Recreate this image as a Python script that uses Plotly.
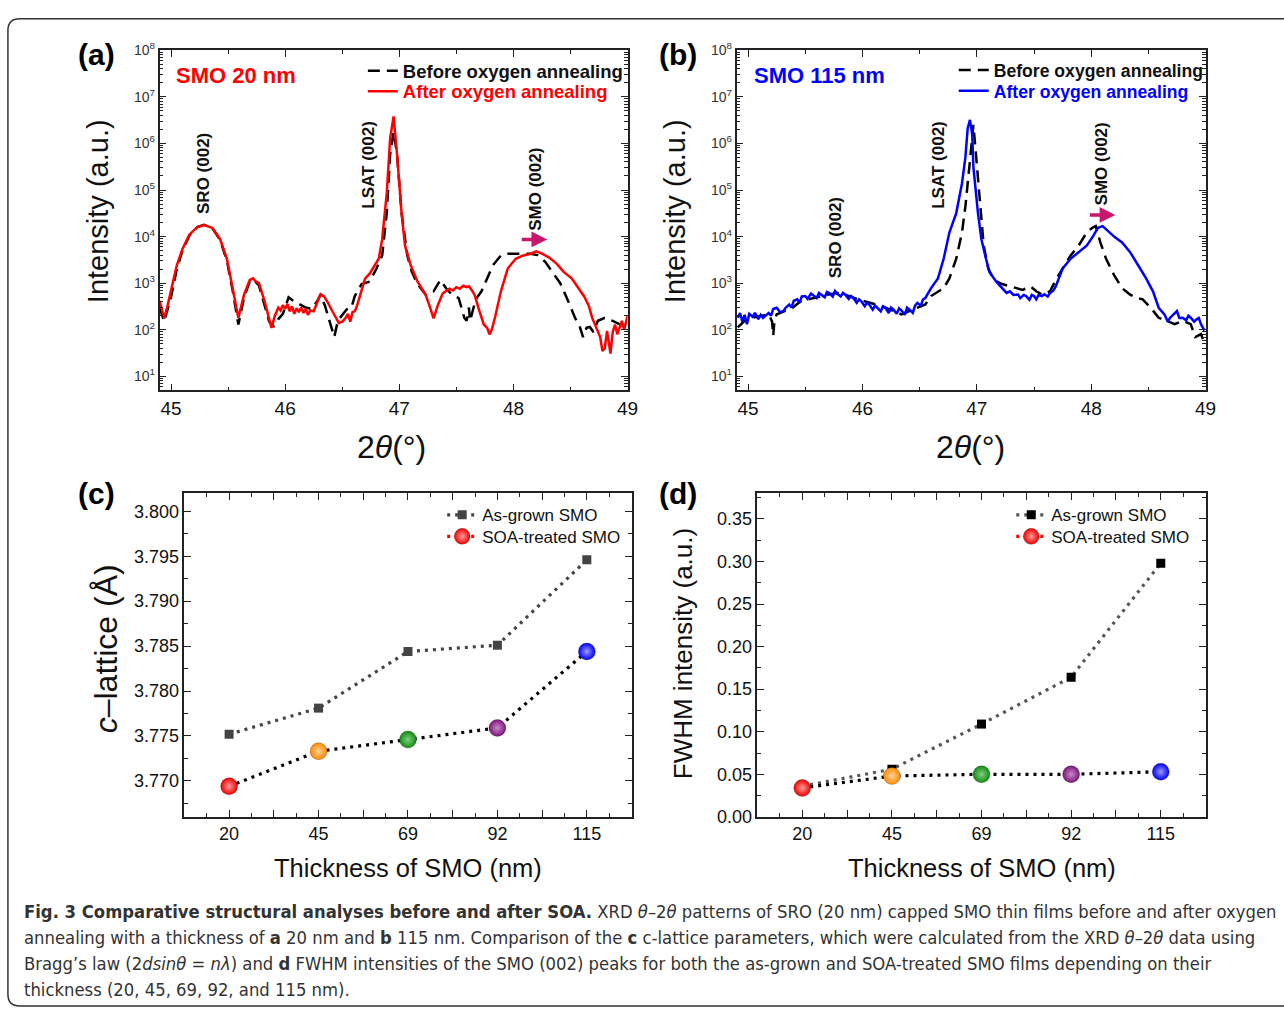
import plotly.graph_objects as go

W, H = 1284, 1020

# ---------------- data ----------------
# (a) SMO 20 nm
a_before_x = [44.90, 44.94, 45.00, 45.05, 45.10, 45.16, 45.23, 45.29, 45.36, 45.43, 45.49, 45.54, 45.59, 45.64, 45.69,
              45.72, 45.77, 45.82, 45.86, 45.90, 45.94, 45.98, 46.03, 46.07, 46.11, 46.15, 46.18, 46.23, 46.28, 46.31,
              46.35, 46.39, 46.43, 46.46, 46.48, 46.54, 46.58, 46.61, 46.67, 46.74, 46.80, 46.85, 46.89, 46.92, 46.95,
              46.98, 47.02, 47.07, 47.11, 47.16, 47.23, 47.30, 47.36, 47.41, 47.46, 47.52, 47.57, 47.59, 47.61, 47.62,
              47.64, 47.67, 47.72, 47.82, 47.89, 47.95, 48.05, 48.15, 48.21, 48.28, 48.34, 48.41, 48.48, 48.54, 48.58,
              48.61, 48.64, 48.67, 48.70, 48.74, 48.80, 48.87, 48.93, 49.00]
a_before_i = [300, 150, 500, 2000, 5000, 10500, 16000, 18000, 15500, 8500, 3000, 700, 130, 500, 1100,
              1200, 900, 350, 150, 120, 170, 220, 500, 420, 370, 320, 300, 280, 410, 570,
              320, 150, 70, 150, 180, 275, 300, 530, 960, 1080, 2060, 3940, 32000, 5.9e5, 1.8e6,
              5.9e5, 32000, 3940, 1750, 960, 570, 670, 1170, 780, 570, 480, 180, 156, 300, 156,
              250, 450, 670, 2430, 3940, 4270, 4300, 4270, 4000, 2850, 1750, 1000, 410, 180, 120,
              70, 110, 115, 90, 156, 180, 156, 132, 96]

a_after_x = [44.90, 44.92, 44.94, 44.97, 45.00, 45.05, 45.10, 45.16, 45.23, 45.29, 45.36, 45.43, 45.49, 45.54, 45.59,
             45.64, 45.69, 45.72, 45.74, 45.77, 45.82, 45.86, 45.88, 45.91, 45.94, 45.96, 45.98, 46.00, 46.02, 46.04,
             46.06, 46.08, 46.10, 46.12, 46.14, 46.16, 46.18, 46.20, 46.22, 46.25, 46.28, 46.31, 46.34, 46.37, 46.41,
             46.44, 46.47, 46.50, 46.53, 46.55, 46.57, 46.59, 46.61, 46.63, 46.66, 46.70, 46.74, 46.77, 46.82, 46.85,
             46.89, 46.92, 46.95, 46.98, 47.02, 47.05, 47.10, 47.16, 47.20, 47.23, 47.27, 47.30, 47.34, 47.38, 47.41,
             47.44, 47.47, 47.50, 47.53, 47.56, 47.59, 47.61, 47.64, 47.66, 47.70, 47.74, 47.77, 47.79, 47.81, 47.84,
             47.89, 47.95, 48.02, 48.08, 48.15, 48.20, 48.25, 48.31, 48.38, 48.44, 48.51, 48.57, 48.62, 48.66, 48.69,
             48.72, 48.74, 48.76, 48.78, 48.80, 48.82, 48.84, 48.85, 48.87, 48.89, 48.91, 48.93, 48.95, 48.97, 49.00]
a_after_i = [420, 260, 175, 330, 670, 2400, 5400, 11000, 16000, 17700, 15500, 8800, 3300, 780, 180,
             570, 1170, 1270, 1100, 1000, 410, 170, 110, 200, 300, 260, 340, 280, 360, 250,
             320, 220, 290, 240, 300, 230, 280, 210, 260, 250, 380, 580, 520, 400, 260,
             190, 140, 150, 180, 220, 150, 240, 250, 330, 620, 1250, 1600, 2060, 3350, 8800,
             85000, 1.3e6, 3.8e6, 5.9e5, 32000, 6400, 2430, 1080, 760, 570, 300, 175, 350, 600, 680,
             760, 700, 820, 760, 880, 820, 860, 680, 560, 260, 130, 110, 80, 100, 190,
             670, 2060, 3350, 3900, 4300, 4800, 4300, 3600, 2600, 1750, 1270, 780, 520, 330, 180,
             120, 95, 70, 35, 40, 95, 50, 31, 90, 130, 80, 110, 155, 100, 200]

# (b) SMO 115 nm
b_before_x = [44.91, 44.97, 45.04, 45.11, 45.18, 45.21, 45.22, 45.23, 45.25, 45.32, 45.39, 45.46, 45.57, 45.67, 45.78,
              45.85, 45.96, 46.06, 46.17, 46.27, 46.34, 46.41, 46.48, 46.55, 46.60, 46.66, 46.71, 46.76, 46.82, 46.87,
              46.90, 46.94, 46.97, 46.99, 47.03, 47.06, 47.10, 47.15, 47.22, 47.29, 47.40, 47.47, 47.52, 47.57, 47.64,
              47.69, 47.75, 47.82, 47.89, 47.96, 48.01, 48.04, 48.08, 48.13, 48.20, 48.27, 48.34, 48.40, 48.45, 48.52,
              48.59, 48.66, 48.73, 48.80, 48.87, 48.91, 48.96, 48.99]
b_before_i = [113, 156, 182, 199, 215, 150, 75, 150, 215, 253, 297, 410, 482, 550, 615,
              567, 450, 378, 320, 253, 215, 253, 297, 349, 530, 670, 783, 1270, 3350, 12200,
              44500, 4.3e5, 2.5e6, 6.9e5, 44500, 6390, 2060, 1170, 960, 850, 720, 850, 670, 570, 670,
              1170, 2060, 3940, 6390, 12200, 15500, 16800, 7500, 3350, 1490, 780, 570, 482, 450, 297,
              182, 156, 132, 156, 132, 70, 81, 51]

b_after_x = [44.91, 44.93, 44.95, 44.97, 44.99, 45.01, 45.04, 45.06, 45.09, 45.11, 45.13, 45.15, 45.18, 45.20, 45.22,
             45.25, 45.28, 45.31, 45.33, 45.36, 45.38, 45.40, 45.43, 45.45, 45.47, 45.50, 45.52, 45.55, 45.57, 45.60,
             45.62, 45.64, 45.67, 45.69, 45.71, 45.74, 45.76, 45.78, 45.81, 45.83, 45.85, 45.88, 45.90, 45.92, 45.95,
             45.97, 45.99, 46.02, 46.04, 46.06, 46.09, 46.11, 46.13, 46.16, 46.18, 46.20, 46.23, 46.25, 46.27, 46.30,
             46.32, 46.34, 46.37, 46.39, 46.41, 46.44, 46.46, 46.48, 46.51, 46.53, 46.55, 46.60, 46.66, 46.71, 46.76,
             46.82, 46.87, 46.90, 46.92, 46.94, 46.96, 46.97, 47.01, 47.04, 47.08, 47.11, 47.17, 47.22, 47.26, 47.29,
             47.32, 47.36, 47.38, 47.41, 47.43, 47.46, 47.48, 47.50, 47.52, 47.54, 47.57, 47.59, 47.62, 47.64, 47.67,
             47.69, 47.75, 47.82, 47.89, 47.96, 48.01, 48.06, 48.10, 48.15, 48.20, 48.27, 48.34, 48.41, 48.48, 48.54,
             48.59, 48.64, 48.67, 48.69, 48.72, 48.75, 48.77, 48.80, 48.83, 48.85, 48.87, 48.90, 48.92, 48.94, 48.96,
             48.99]
b_after_i = [182, 230, 150, 210, 132, 220, 190, 230, 170, 210, 180, 200, 230, 200, 280,
             297, 240, 253, 300, 349, 300, 420, 450, 380, 520, 530, 460, 600, 555, 480,
             620, 567, 500, 650, 615, 520, 680, 590, 520, 620, 567, 460, 530, 482, 380,
             450, 410, 320, 380, 349, 270, 330, 297, 250, 320, 297, 230, 300, 274, 220,
             290, 262, 210, 300, 274, 230, 330, 378, 330, 450, 482, 783, 1270, 3350, 12200,
             32000, 1.38e5, 5.0e5, 2.1e6, 3.2e6, 1.55e6, 3.1e5, 32000, 8800, 3350, 1750, 1080, 780, 620, 670,
             560, 570, 480, 560, 530, 440, 560, 530, 450, 560, 530, 580, 520, 615, 700,
             850, 2060, 3350, 4650, 6390, 9600, 15500, 16800, 13200, 10000, 7500, 4650, 2430, 1270, 670,
             297, 215, 150, 182, 220, 253, 180, 182, 160, 200, 182, 150, 167, 180, 132,
             96]

xrd_ticks = [45, 46, 47, 48, 49]
log_tickvals = [10, 100, 1e3, 1e4, 1e5, 1e6, 1e7, 1e8]
log_ticktext = ["10<sup>1</sup>", "10<sup>2</sup>", "10<sup>3</sup>", "10<sup>4</sup>",
                "10<sup>5</sup>", "10<sup>6</sup>", "10<sup>7</sup>", "10<sup>8</sup>"]

# (c), (d)
thickness = [20, 45, 69, 92, 115]
c_asgrown = [3.7752, 3.7781, 3.7844, 3.7851, 3.7946]
c_soa = [3.7694, 3.7733, 3.7746, 3.7759, 3.7844]
d_asgrown = [0.036, 0.056, 0.109, 0.164, 0.298]
d_soa = [0.034, 0.048, 0.050, 0.050, 0.053]
soa_colors = ["#f00000", "#ff8a00", "#138a13", "#7a167a", "#0000f5"]
soa_centers = ["#ff9a9a", "#ffd29a", "#7fd07f", "#c98ac9", "#9a9aff"]

# ---------------- helpers ----------------
def px(x):
    return x / W


def py(y):
    return 1 - y / H


FONT = "Arial, Liberation Sans, Helvetica, sans-serif"
CAPFONT = "Liberation Sans Narrow, DejaVu Sans Condensed, Arial Narrow, sans-serif"
LC = "#222222"

fig = go.Figure()

# (a)
fig.add_trace(go.Scatter(x=a_before_x, y=a_before_i, mode="lines", name="Before oxygen annealing",
                         line=dict(color="black", width=2.5, dash="12px,7px"), xaxis="x", yaxis="y", legend="legend"))
fig.add_trace(go.Scatter(x=a_after_x, y=a_after_i, mode="lines",
                         name="<span style='color:#ff0000'>After oxygen annealing</span>",
                         line=dict(color="#ff0000", width=2.5), xaxis="x", yaxis="y", legend="legend2"))
# (b)
fig.add_trace(go.Scatter(x=b_before_x, y=b_before_i, mode="lines", name="Before oxygen annealing",
                         line=dict(color="black", width=2.5, dash="12px,7px"), xaxis="x2", yaxis="y2", legend="legend3"))
fig.add_trace(go.Scatter(x=b_after_x, y=b_after_i, mode="lines",
                         name="<span style='color:#0000ff'>After oxygen annealing</span>",
                         line=dict(color="#0000ff", width=2.5), xaxis="x2", yaxis="y2", legend="legend4"))

idx = list(range(len(thickness)))


def sphere_marker(colors, centers, size=17):
    return dict(symbol="circle", size=size, color=colors,
                gradient=dict(type="radial", color=centers),
                line=dict(width=0.6, color="rgba(0,0,0,0.35)"))


for (xa, ya, leg1, leg2, ag, soa, sqc, lnc) in [
        ("x3", "y3", "legend5", "legend6", c_asgrown, c_soa, "#444444", "#444444"),
        ("x4", "y4", "legend7", "legend8", d_asgrown, d_soa, "#000000", "#555555")]:
    fig.add_trace(go.Scatter(x=idx, y=ag, mode="lines+markers", name="As-grown SMO",
                             line=dict(color=lnc, width=3.2, dash="3px,5px"),
                             marker=dict(symbol="square", size=9, color=sqc),
                             xaxis=xa, yaxis=ya, legend=leg1))
    # legend entry for treated series
    fig.add_trace(go.Scatter(x=[None], y=[None], mode="lines+markers", name="SOA-treated SMO",
                             line=dict(color="#ff0000", width=3.2, dash="3px,5px"),
                             marker=sphere_marker(soa_colors[0], soa_centers[0]),
                             xaxis=xa, yaxis=ya, legend=leg2))
    fig.add_trace(go.Scatter(x=idx, y=soa, mode="lines+markers", showlegend=False,
                             line=dict(color="#000000", width=3.2, dash="3px,5px"),
                             marker=sphere_marker(soa_colors, soa_centers),
                             xaxis=xa, yaxis=ya))

AX = dict(showline=True, linecolor=LC, linewidth=1.6, mirror="allticks", ticks="inside",
          tickcolor=LC, tickwidth=1.3, showgrid=False, zeroline=False)

xr_axis = dict(AX, range=[44.9, 49], tickmode="array", tickvals=xrd_ticks, ticklen=7,
               tickfont=dict(size=19, color="#111"),
               minor=dict(dtick=0.5, tick0=45, ticks="inside", ticklen=4, tickcolor=LC, tickwidth=1.2))
yr_axis = dict(AX, type="log", range=[0.7, 8], tickmode="array", tickvals=log_tickvals, ticktext=log_ticktext,
               ticklen=7, tickfont=dict(size=14, color="#333"),
               minor=dict(dtick="D1", ticks="inside", ticklen=3.5, tickcolor=LC, tickwidth=1))

half_vals = [k / 2 for k in range(0, 2 * len(thickness) - 1)]
half_text = [str(thickness[k // 2]) if k % 2 == 0 else "" for k in range(0, 2 * len(thickness) - 1)]
xt_axis = dict(AX, range=[-0.5, 4.5], tickmode="array", tickvals=half_vals, ticktext=half_text, ticklen=7,
               tickfont=dict(size=18, color="#111"),
               minor=dict(dtick=0.25, tick0=0, ticks="inside", ticklen=4, tickcolor=LC, tickwidth=1.2))


def leg(x, y, size, bold):
    return dict(x=px(x), y=py(y), xanchor="left", yanchor="top", bgcolor="rgba(0,0,0,0)",
                font=dict(size=size, family=FONT, weight="bold" if bold else "normal", color="#111"))


fig.update_layout(
    width=W, height=H, margin=dict(l=0, r=0, t=0, b=0),
    paper_bgcolor="white", plot_bgcolor="white",
    font=dict(family=FONT, color="#111"),
    xaxis=dict(xr_axis, domain=[px(161), px(633)], anchor="y"),
    yaxis=dict(yr_axis, domain=[py(388), py(41)], anchor="x"),
    xaxis2=dict(xr_axis, domain=[px(743), px(1216)], anchor="y2"),
    yaxis2=dict(yr_axis, domain=[py(388), py(41)], anchor="x2"),
    xaxis3=dict(xt_axis, domain=[px(186), px(637)], anchor="y3"),
    yaxis3=dict(AX, domain=[py(823), py(493)], anchor="x3", range=[3.766, 3.802], dtick=0.005, tick0=3.77,
                tickformat=".3f", ticklen=7, tickfont=dict(size=18, color="#111"),
                minor=dict(dtick=0.0025, tick0=3.77, ticks="inside", ticklen=4, tickcolor=LC, tickwidth=1.2)),
    xaxis4=dict(xt_axis, domain=[px(764), px(1216)], anchor="y4"),
    yaxis4=dict(AX, domain=[py(823), py(493)], anchor="x4", range=[0, 0.38], dtick=0.05, tick0=0,
                tickformat=".2f", ticklen=7, tickfont=dict(size=18, color="#111"),
                minor=dict(dtick=0.025, tick0=0, ticks="inside", ticklen=4, tickcolor=LC, tickwidth=1.2)),
    legend=leg(366, 43, 18.5, True),
    legend2=leg(366, 64, 18.5, True),
    legend3=leg(962, 43, 17.6, True),
    legend4=leg(962, 64, 17.6, True),
    legend5=leg(446, 497, 17, False),
    legend6=leg(446, 519, 17, False),
    legend7=leg(1020, 497, 17, False),
    legend8=leg(1020, 519, 17, False),
)


def ann(text, x, y, size, color="#111", bold=False, angle=0, xanchor="center", yanchor="middle", family=FONT):
    fig.add_annotation(text=text, x=px(x), y=py(y), xref="paper", yref="paper", showarrow=False,
                       textangle=angle, xanchor=xanchor, yanchor=yanchor,
                       font=dict(size=size, color=color, family=family, weight="bold" if bold else "normal"))


# panel letters
for t, x, y in [("(a)", 97, 45), ("(b)", 684, 45), ("(c)", 97, 493), ("(d)", 684, 493)]:
    ann(t, x, y, 30, color="black", bold=True)

# (a) labels
ann("SMO 20 nm", 175, 67, 22, color="#ff0000", bold=True, xanchor="left")
ann("SRO (002)", 205, 167, 17, color="#111", bold=True, angle=-90)
ann("LSAT (002)", 372, 158, 17, color="#111", bold=True, angle=-90)
ann("SMO (002)", 540, 183, 17, color="#111", bold=True, angle=-90)
# (b) labels
ann("SMO 115 nm", 758, 67, 22, color="#0000ff", bold=True, xanchor="left")
ann("SRO (002)", 843, 232, 17, color="#111", bold=True, angle=-90)
ann("LSAT (002)", 947, 158, 17, color="#111", bold=True, angle=-90)
ann("SMO (002)", 1111, 157, 17, color="#111", bold=True, angle=-90)

# arrows
for (x0, x1, y) in [(525, 552, 234), (1098, 1125, 209)]:
    fig.add_annotation(x=px(x1), y=py(y), xref="paper", yref="paper", ax=-(x1 - x0), ay=0,
                       axref="pixel", ayref="pixel", text="", showarrow=True,
                       arrowhead=2, arrowsize=0.9, arrowwidth=3.5, arrowcolor="#c8176e")

# axis titles
ann("Intensity (a.u.)", 99, 205, 29, angle=-90)
ann("Intensity (a.u.)", 681, 205, 29, angle=-90)
ann("2<i>θ</i>(°)", 395, 446, 32)
ann("2<i>θ</i>(°)", 979, 446, 32)
ann("<i>c</i>–lattice (Å)", 107, 652, 32, angle=-90)
ann("FWHM intensity (a.u.)", 689, 657, 26, angle=-90)
ann("Thickness of SMO (nm)", 412, 875, 25.5)
ann("Thickness of SMO (nm)", 990, 875, 25.5)

# caption
cap = [
    "<b>Fig. 3 Comparative structural analyses before and after SOA.</b> XRD <i>θ</i>–2<i>θ</i> patterns of SRO (20 nm) capped SMO thin films before and after oxygen",
    "annealing with a thickness of <b>a</b> 20 nm and <b>b</b> 115 nm. Comparison of the <b>c</b> c-lattice parameters, which were calculated from the XRD <i>θ</i>–2<i>θ</i> data using",
    "Bragg’s law (2<i>dsinθ</i> = <i>nλ</i>) and <b>d</b> FWHM intensities of the SMO (002) peaks for both the as-grown and SOA-treated SMO films depending on their",
    "thickness (20, 45, 69, 92, and 115 nm).",
]
for i, line in enumerate(cap):
    ann(line, 22, 920 + i * 26.5, 18.3, color="#333", xanchor="left", family=CAPFONT)

# rounded border
r = 12
x0, x1, y0, y1 = 8, 1300, 9, 1016
path = (f"M {px(x1)},{py(y0)} L {px(x0 + r)},{py(y0)} Q {px(x0)},{py(y0)} {px(x0)},{py(y0 + r)} "
        f"L {px(x0)},{py(y1 - r)} Q {px(x0)},{py(y1)} {px(x0 + r)},{py(y1)} L {px(x1)},{py(y1)}")
fig.add_shape(type="path", path=path, xref="paper", yref="paper", line=dict(color="#333", width=1.5))

fig.write_html("out.html")
